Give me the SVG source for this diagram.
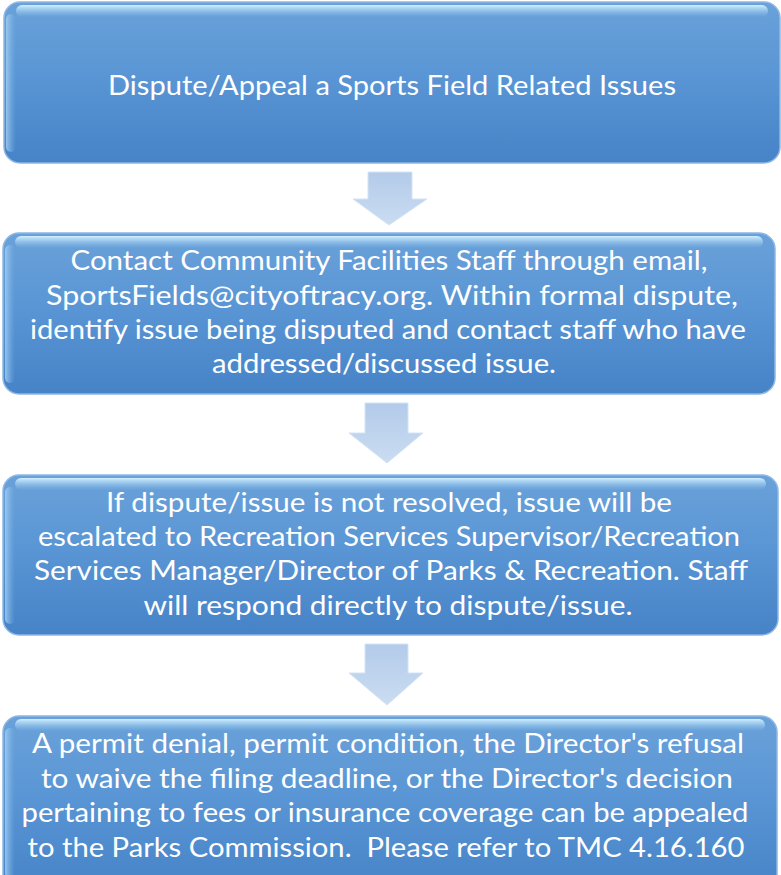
<svg xmlns="http://www.w3.org/2000/svg" width="781" height="875" viewBox="0 0 781 875">
<defs>
<linearGradient id="boxg" x1="0" y1="0" x2="0" y2="1">
<stop offset="0" stop-color="#6aa1d9"/>
<stop offset="0.45" stop-color="#5a96d5"/>
<stop offset="1" stop-color="#4683c7"/>
</linearGradient>
<linearGradient id="hl" x1="0" y1="0" x2="0" y2="1">
<stop offset="0" stop-color="#d6f4ff" stop-opacity="0.95"/>
<stop offset="1" stop-color="#9fd0f5" stop-opacity="0"/>
</linearGradient>
<linearGradient id="lh" x1="0" y1="0" x2="1" y2="0">
<stop offset="0" stop-color="#a8d4f5" stop-opacity="0.8"/>
<stop offset="1" stop-color="#7ab4e6" stop-opacity="0"/>
</linearGradient>
<linearGradient id="arg" x1="0" y1="0" x2="0" y2="1">
<stop offset="0" stop-color="#b3cbea"/>
<stop offset="1" stop-color="#cadcf1"/>
</linearGradient>
</defs>
<style>
.box{fill:url(#boxg);stroke:#8fb8e3;stroke-width:1.5}
.top{fill:url(#hl)}
.left{fill:url(#lh)}
.arrow{fill:url(#arg);stroke:#d3e3f4;stroke-width:1}
text{font-family:Lato,"Noto Sans","Liberation Sans",sans-serif;font-size:27px;fill:#ffffff;text-anchor:middle;white-space:pre}
</style>
<g id="connectors">
<path class="arrow" d="M368 172 H412 V199 H427 L389 225 L353 199 H368 Z"/>
<path class="arrow" d="M365 403 H408 V433 H423 L387 463 L349 433 H365 Z"/>
<path class="arrow" d="M365 644 H408 V673 H423 L387 705 L349 673 H365 Z"/>
</g>
<g id="node1">
<rect class="box" x="4" y="2" width="776" height="161" rx="16"/>
<rect class="top" x="16" y="5" width="752" height="12" rx="6"/>
<rect class="left" x="6" y="14" width="10" height="138" rx="5"/>
<text x="392" y="95" textLength="568" lengthAdjust="spacingAndGlyphs">Dispute/Appeal a Sports Field Related Issues</text>
</g>
<g id="node2">
<rect class="box" x="3" y="233" width="772" height="161" rx="16"/>
<rect class="top" x="15" y="236" width="748" height="12" rx="6"/>
<rect class="left" x="5" y="245" width="10" height="138" rx="5"/>
<text x="389" y="270" textLength="637" lengthAdjust="spacingAndGlyphs">Contact Community Facilities Staff through email,</text>
<text x="392" y="305" textLength="692" lengthAdjust="spacingAndGlyphs">SportsFields@cityoftracy.org. Within formal dispute,</text>
<text x="388" y="339" textLength="716" lengthAdjust="spacingAndGlyphs">identify issue being disputed and contact staff who have</text>
<text x="384" y="373" textLength="344" lengthAdjust="spacingAndGlyphs">addressed/discussed issue.</text>
</g>
<g id="node3">
<rect class="box" x="3" y="475" width="775" height="160" rx="16"/>
<rect class="top" x="15" y="478" width="751" height="12" rx="6"/>
<rect class="left" x="5" y="487" width="10" height="137" rx="5"/>
<text x="389" y="512" textLength="566" lengthAdjust="spacingAndGlyphs">If dispute/issue is not resolved, issue will be</text>
<text x="389" y="546" textLength="702" lengthAdjust="spacingAndGlyphs">escalated to Recreation Services Supervisor/Recreation</text>
<text x="391" y="580" textLength="714" lengthAdjust="spacingAndGlyphs">Services Manager/Director of Parks &amp; Recreation. Staff</text>
<text x="388" y="615" textLength="489" lengthAdjust="spacingAndGlyphs">will respond directly to dispute/issue.</text>
</g>
<g id="node4">
<rect class="box" x="3" y="716" width="774" height="175" rx="16"/>
<rect class="top" x="15" y="719" width="750" height="12" rx="6"/>
<rect class="left" x="5" y="728" width="10" height="150" rx="5"/>
<text x="388" y="753" textLength="712" lengthAdjust="spacingAndGlyphs">A permit denial, permit condition, the Director's refusal</text>
<text x="387" y="788" textLength="692" lengthAdjust="spacingAndGlyphs">to waive the filing deadline, or the Director's decision</text>
<text x="385" y="822" textLength="727" lengthAdjust="spacingAndGlyphs">pertaining to fees or insurance coverage can be appealed</text>
<text x="386" y="857" textLength="717" lengthAdjust="spacingAndGlyphs">to the Parks Commission.  Please refer to TMC 4.16.160</text>
</g>
</svg>
